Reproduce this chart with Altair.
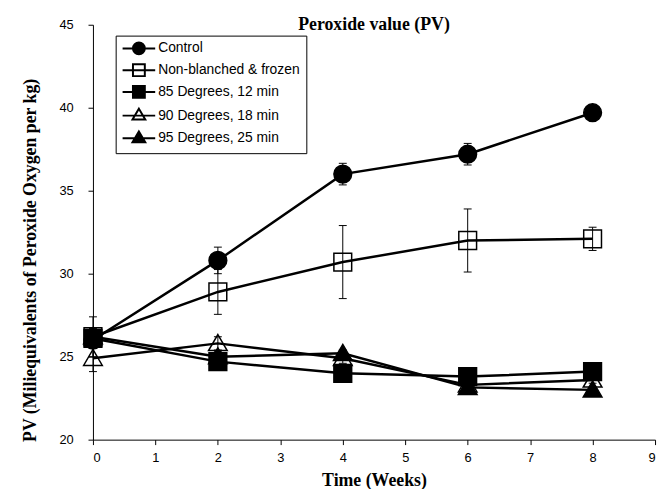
import altair as alt
import pandas as pd

# ---- data ----
weeks = [0, 2, 4, 6, 8]
series = ["Control", "Non-blanched & frozen", "85 Degrees, 12 min",
          "90 Degrees, 18 min", "95 Degrees, 25 min"]

control = [26.0, 30.8, 36.0, 37.2, 39.7]
control_err = [0.3, 0.8, 0.65, 0.65, 0.2]
nonblanched = [26.2, 28.9, 30.7, 32.0, 32.1]
nonblanched_err = [1.2, 1.35, 2.2, 1.9, 0.7]
deg85 = [26.1, 24.7, 24.0, 23.8, 24.1]
deg85_err = [0.3, 0.3, 0.2, 0.2, 0.2]
deg90 = [24.9, 25.8, 24.9, 23.3, 23.6]
deg90_err = [0.8, 0.4, 0.3, 0.2, 0.2]
deg95 = [26.2, 25.0, 25.2, 23.15, 23.0]
deg95_err = [0.5, 0.3, 0.2, 0.2, 0.1]

x_ticks = list(range(0, 10))
y_ticks = [20, 25, 30, 35, 40, 45]

values = [control, nonblanched, deg85, deg90, deg95]
errors = [control_err, nonblanched_err, deg85_err, deg90_err, deg95_err]

rows = []
for s, vals, errs in zip(series, values, errors):
    for w, v, e in zip(weeks, vals, errs):
        rows.append({"series": s, "week": w, "pv": v, "lo": v - e, "hi": v + e})
df = pd.DataFrame(rows)

# ---- styling ----
plot_shapes = ["circle", "square", "square",
               "M0,-1L1.05,0.8L-1.05,0.8Z", "M0,-1L1.05,0.8L-1.05,0.8Z"]
fills = ["black", "transparent", "black", "transparent", "black"]
strokes = ["black"] * 5
legend_shapes = [
    "M-2.75,0H2.75M-1,0A1,1,0,1,1,1,0A1,1,0,1,1,-1,0Z",
    "M-2.75,0H2.75M-1,-1H1V1H-1Z",
    "M-2.75,0H2.75M-1,-1H1V1H-1Z",
    "M-2.75,0H2.75M0,-1.17L1.08,0.67L-1.08,0.67Z",
    "M-2.75,0H2.75M0,-1.17L1.08,0.67L-1.08,0.67Z",
]

x_scale = alt.Scale(domain=[0, 9], nice=False)
y_scale = alt.Scale(domain=[20, 45], nice=False, zero=False)
x_axis = alt.Axis(values=x_ticks, title="Time (Weeks)", tickSize=5, labelPadding=7,
                  titleY=41, titleBaseline="middle")
y_axis = alt.Axis(values=y_ticks, title="PV (Miliequivalents of Peroxide Oxygen per kg)",
                  tickSize=5, labelPadding=15, titleX=-63, titleY=238,
                  titleAngle=270, titleBaseline="middle", titleAlign="center")

X = alt.X("week:Q", scale=x_scale, axis=x_axis)
Y = alt.Y("pv:Q", scale=y_scale, axis=y_axis)

base = alt.Chart(df)

lines = base.mark_line(color="black", strokeWidth=2.5).encode(
    x=X, y=Y, detail="series:N")

rules = base.mark_rule(color="black", strokeWidth=1).encode(
    x=X, y=alt.Y("lo:Q", scale=y_scale, axis=y_axis), y2="hi:Q")

cap_lo = base.mark_point(shape="M-1,0H1", size=64, stroke="black", strokeWidth=1,
                         filled=False, opacity=1).encode(
    x=X, y=alt.Y("lo:Q", scale=y_scale, axis=y_axis))
cap_hi = base.mark_point(shape="M-1,0H1", size=64, stroke="black", strokeWidth=1,
                         filled=False, opacity=1).encode(
    x=X, y=alt.Y("hi:Q", scale=y_scale, axis=y_axis))

points = base.mark_point(filled=True, size=324, stroke="black", strokeWidth=1.5,
                         opacity=1).encode(
    x=X, y=Y,
    shape=alt.Shape("series:N", scale=alt.Scale(domain=series, range=plot_shapes), legend=None),
    fill=alt.Fill("series:N", scale=alt.Scale(domain=series, range=fills), legend=None),
)

legend_def = alt.Legend(
    title=None, orient="none", legendX=23, legendY=11,
    strokeColor="black", fillColor="white", padding=6,
    labelFont="Liberation Sans", labelFontSize=14, labelColor="black",
    symbolSize=144, symbolStrokeWidth=2, symbolStrokeColor="black",
    symbolOffset=10.5, labelOffset=12.5, rowPadding=2,
)

legend_layer = base.transform_filter("false").mark_point(
    filled=False, size=144, strokeWidth=2, opacity=1).encode(
    x=X, y=Y,
    shape=alt.Shape("series:N", scale=alt.Scale(domain=series, range=legend_shapes),
                    legend=legend_def),
    fill=alt.Fill("series:N", scale=alt.Scale(domain=series, range=fills),
                  legend=legend_def),
    stroke=alt.Stroke("series:N", scale=alt.Scale(domain=series, range=strokes),
                      legend=legend_def),
)

chart = alt.layer(lines, rules, cap_lo, cap_hi, points, legend_layer).resolve_scale(
    shape="independent", fill="independent", stroke="independent"
).properties(
    width=569, height=420,
    autosize=alt.AutoSizeParams(type="none"),
    padding={"left": 86, "top": 14, "right": 4, "bottom": 47},
    title=alt.TitleParams("Peroxide value (PV)", font="Liberation Serif", fontSize=18,
                          fontWeight="bold", anchor="middle", frame="group",
                          baseline="top", offset=-15, color="black"),
).configure_view(stroke=None).configure_axis(
    grid=False, domainColor="black", tickColor="black", labelColor="black",
    titleColor="black", labelFont="Liberation Sans", labelFontSize=13,
    titleFont="Liberation Serif", titleFontSize=18, titleFontWeight="bold",
    domainWidth=1, tickWidth=1,
)

chart.save("out.html", embed_options={"renderer": "svg", "actions": False})
